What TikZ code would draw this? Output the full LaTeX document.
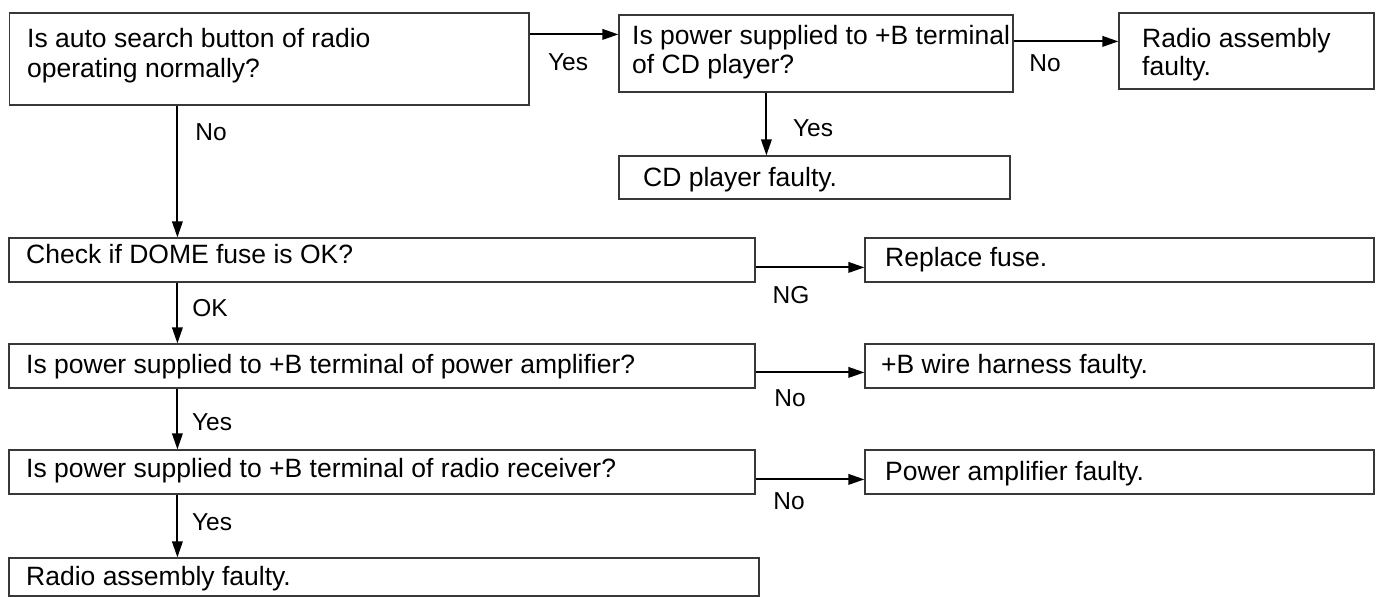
\documentclass[tikz,border=0pt]{standalone}
\usepackage{fontspec}
\setmainfont{Liberation Sans}
\usetikzlibrary{arrows.meta,fit}
\definecolor{boxgray}{HTML}{383838}
\begin{document}
\begin{tikzpicture}[x=1pt,y=-1pt,
  box/.style={draw=boxgray,line width=1.2pt,inner sep=0pt},
  txt/.style={anchor=base west,inner sep=0pt,font=\fontsize{26.5pt}{30pt}\selectfont},
  lbl/.style={inner sep=0pt,font=\fontsize{24.5pt}{28pt}\selectfont},
  arr/.style={line width=2pt,-{Triangle[length=16pt,width=10.5pt]}}]
\useasboundingbox (0,0) rectangle (1377,597);
% boxes
\node[box,fit={(9.5,13) (529,105)}] (b1) {};
\node[box,fit={(619,15) (1013,92)}] (b2) {};
\node[box,fit={(1119,13) (1374,89)}] (b3) {};
\node[box,fit={(619,156) (1010,199)}] (b4) {};
\node[box,fit={(9,238) (755,282)}] (b5) {};
\node[box,fit={(865,238) (1374,282)}] (b6) {};
\node[box,fit={(9,344) (755,388)}] (b7) {};
\node[box,fit={(865,344) (1374,388)}] (b8) {};
\node[box,fit={(9,450) (755,494)}] (b9) {};
\node[box,fit={(865,450) (1374,494)}] (b10) {};
\node[box,fit={(9,558) (759,596)}] (b11) {};
% texts
\node[txt] (t1a) at (27,47) {Is auto search button of radio};
\node[txt] (t1b) at (27,77) {operating normally?};
\node[txt] (t2a) at (632,45) {Is power supplied to +B terminal};
\node[txt] (t2b) at (632,73) {of CD player?};
\node[txt] (t3a) at (1142,47) {Radio assembly};
\node[txt] (t3b) at (1142,75) {faulty.};
\node[txt] (t4) at (643,186) {CD player faulty.};
\node[txt] (t5) at (26,263) {Check if DOME fuse is OK?};
\node[txt] (t6) at (885,266) {Replace fuse.};
\node[txt] (t7) at (26,373) {Is power supplied to +B terminal of power amplifier?};
\node[txt] (t8) at (881,373) {+B wire harness faulty.};
\node[txt] (t9) at (26,477) {Is power supplied to +B terminal of radio receiver?};
\node[txt] (t10) at (885,480) {Power amplifier faulty.};
\node[txt] (t11) at (26,585) {Radio assembly faulty.};
% connectors
\draw[arr] ([yshift=-22pt]b1.north east) -- ([yshift=-20pt]b2.north west);
\draw[arr] ([yshift=-27pt]b2.north east) -- ([yshift=-29pt]b3.north west);
\draw[arr] ([xshift=148pt]b2.south west) -- ([xshift=148pt]b4.north west);
\draw[arr] ([xshift=168.5pt]b1.south west) -- ([xshift=169pt]b5.north west);
\draw[arr] ([xshift=169pt]b5.south west) -- ([xshift=169pt]b7.north west);
\draw[arr] ([xshift=169pt]b7.south west) -- ([xshift=169pt]b9.north west);
\draw[arr] ([xshift=169pt]b9.south west) -- ([xshift=169pt]b11.north west);
\draw[arr] ([yshift=-30pt]b5.north east) -- ([yshift=-30pt]b6.north west);
\draw[arr] ([yshift=-29pt]b7.north east) -- ([yshift=-29pt]b8.north west);
\draw[arr] ([yshift=-30pt]b9.north east) -- ([yshift=-30pt]b10.north west);
% labels
\node[lbl] (l1) at (568,62) {Yes};
\node[lbl] (l2) at (1045,63) {No};
\node[lbl] (l3) at (813,128) {Yes};
\node[lbl] (l4) at (211,132) {No};
\node[lbl] (l5) at (210,308) {OK};
\node[lbl] (l6) at (791,295) {NG};
\node[lbl] (l7) at (790,398) {No};
\node[lbl] (l8) at (212,422) {Yes};
\node[lbl] (l9) at (789,501) {No};
\node[lbl] (l10) at (212,522) {Yes};
\end{tikzpicture}
\end{document}
